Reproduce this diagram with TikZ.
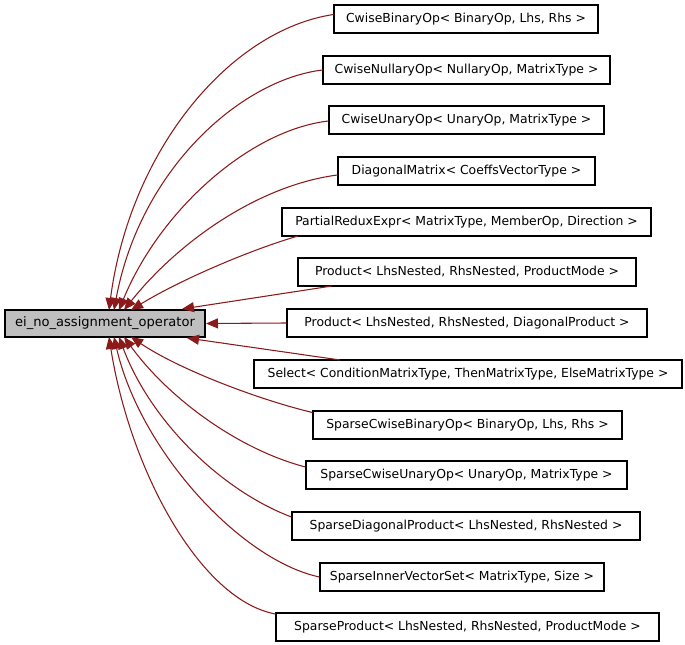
\documentclass[tikz,border=0pt]{standalone}
\usepackage{fontspec}
\setmainfont{DejaVu Sans}
\usetikzlibrary{arrows.meta}
\definecolor{edgered}{HTML}{8B1A1A}
\definecolor{maingray}{HTML}{BFBFBF}
\tikzset{
  cls/.style={draw=black, line width=0.8pt, fill=white, minimum height=21pt, inner sep=0pt, font=\fontsize{9.3}{11}\selectfont},
  inh/.style={draw=edgered, line width=0.8pt, -{Triangle[length=9pt,width=7.5pt]}},
}
\begin{document}
\begin{tikzpicture}[x={(0.75pt,0)}, y={(0,-0.75pt)}]
\useasboundingbox (0,0) rectangle (685,645);
\node[cls, fill=maingray, minimum width=150pt, minimum height=20.25pt, font=\fontsize{9.8}{11}\selectfont] (main) at (105,323.5) {ei\_no\_assignment\_operator};
\node[cls, minimum width=198pt] (n1) at (466,19) {CwiseBinaryOp< BinaryOp, Lhs, Rhs >};
\node[cls, minimum width=215.25pt] (n2) at (466.5,70) {CwiseNullaryOp< NullaryOp, MatrixType >};
\node[cls, minimum width=206.25pt] (n3) at (466.5,120) {CwiseUnaryOp< UnaryOp, MatrixType >};
\node[cls, minimum width=192.75pt] (n4) at (466.5,171) {DiagonalMatrix< CoeffsVectorType >};
\node[cls, minimum width=276.75pt] (n5) at (466.5,222) {PartialReduxExpr< MatrixType, MemberOp, Direction >};
\node[cls, minimum width=253.5pt] (n6) at (467,272) {Product< LhsNested, RhsNested, ProductMode >};
\node[cls, minimum width=270pt] (n7) at (467,323) {Product< LhsNested, RhsNested, DiagonalProduct >};
\node[cls, minimum width=321pt] (n8) at (468,374) {Select< ConditionMatrixType, ThenMatrixType, ElseMatrixType >};
\node[cls, minimum width=231.75pt] (n9) at (467.5,425) {SparseCwiseBinaryOp< BinaryOp, Lhs, Rhs >};
\node[cls, minimum width=240.75pt] (n10) at (466.5,475) {SparseCwiseUnaryOp< UnaryOp, MatrixType >};
\node[cls, minimum width=261pt] (n11) at (466,526) {SparseDiagonalProduct< LhsNested, RhsNested >};
\node[cls, minimum width=213pt] (n12) at (462,577) {SparseInnerVectorSet< MatrixType, Size >};
\node[cls, minimum width=287.25pt] (n13) at (467.5,627) {SparseProduct< LhsNested, RhsNested, ProductMode >};

\coordinate (t1) at (109,310);
\coordinate (t2) at (114,310);
\coordinate (t3) at (119,310);
\coordinate (t4) at (124,310);
\coordinate (t5) at (131,310);
\coordinate (t6) at (182,309);
\coordinate (t7) at (206,323.5);
\coordinate (t8) at (187,338);
\coordinate (t9) at (131,337);
\coordinate (t10) at (124,337);
\coordinate (t11) at (119,337);
\coordinate (t12) at (114,337);
\coordinate (t13) at (109,337);

\draw[inh] (n1.west |- 0,14.5) .. controls (230,30) and (130,150) .. (t1);
\draw[inh] (n2.west) .. controls (240,80) and (140,170) .. (t2);
\draw[inh] (n3.west |- 0,121) .. controls (250,130) and (160,210) .. (t3);
\draw[inh] (n4.west |- 0,175) .. controls (260,185) and (180,240) .. (t4);
\draw[inh] (298,236) .. controls (250,250) and (180,280) .. (t5);
\draw[inh] (332,286) -- (t6);
\draw[inh] (n7.west) -- (t7);
\draw[inh] (340,360) -- (t8);
\draw[inh] (n9.west |- 0,412.5) .. controls (260,400) and (180,370) .. (t9);
\draw[inh] (n10.west |- 0,467) .. controls (240,450) and (170,400) .. (t10);
\draw[inh] (n11.west |- 0,517) .. controls (220,490) and (150,420) .. (t11);
\draw[inh] (n12.west |- 0,577) .. controls (240,560) and (140,450) .. (t12);
\draw[inh] (n13.west |- 0,614) .. controls (200,600) and (130,470) .. (t13);
\end{tikzpicture}
\end{document}
